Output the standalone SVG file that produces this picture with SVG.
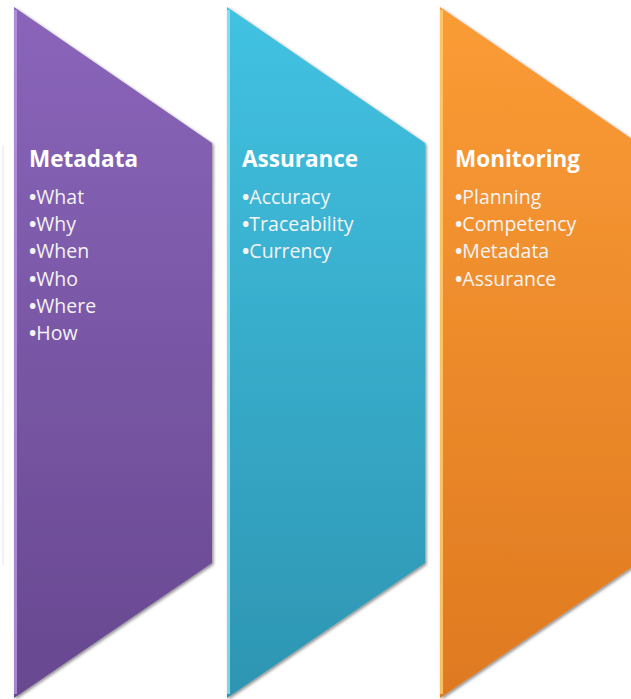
<svg xmlns="http://www.w3.org/2000/svg" width="631" height="699" viewBox="0 0 631 699">
  <defs>
    <linearGradient id="gPurple" x1="0" y1="0" x2="0" y2="1">
      <stop offset="0" stop-color="#8a65ba"/>
      <stop offset="1" stop-color="#684890"/>
    </linearGradient>
    <linearGradient id="gCyan" x1="0" y1="0" x2="0" y2="1">
      <stop offset="0" stop-color="#42c2e2"/>
      <stop offset="1" stop-color="#2d95b2"/>
    </linearGradient>
    <linearGradient id="gOrange" x1="0" y1="0" x2="0" y2="1">
      <stop offset="0" stop-color="#fa9c36"/>
      <stop offset="1" stop-color="#df7920"/>
    </linearGradient>
    <filter id="shadow" x="-10%" y="-10%" width="130%" height="130%">
      <feDropShadow dx="1.5" dy="1.5" stdDeviation="1.5" flood-color="#000" flood-opacity="0.45"/>
    </filter>
  </defs>
  <style>
    .shape { filter: url(#shadow); }
    .hl { stroke-width: 3; fill: none; opacity: 0.8; }
    .title { font-family: "Open Sans", "Liberation Sans", Arial, sans-serif; font-weight: bold; font-size: 22.5px; fill: #ffffff; }
    .item { font-family: "Open Sans", "Liberation Sans", Arial, sans-serif; font-size: 19.5px; fill: #f4f4f4; }
    .b { font-weight: bold; }
  </style>
  <rect width="631" height="699" fill="#ffffff"/>
  <line x1="3" y1="145" x2="3" y2="565" stroke="#e4e4e4" stroke-width="1"/>

  <g id="metadata">
    <polygon class="shape" points="14,7 212,143 212,563 14,698" fill="url(#gPurple)"/>
    <line class="hl" x1="15.5" y1="10" x2="15.5" y2="694" stroke="#b696e0"/>
    <text class="title" x="29" y="167">Metadata</text>
    <text class="item" x="29" y="204"><tspan class="b">•</tspan>What</text>
    <text class="item" x="29" y="231"><tspan class="b">•</tspan>Why</text>
    <text class="item" x="29" y="258"><tspan class="b">•</tspan>When</text>
    <text class="item" x="29" y="286"><tspan class="b">•</tspan>Who</text>
    <text class="item" x="29" y="313"><tspan class="b">•</tspan>Where</text>
    <text class="item" x="29" y="340"><tspan class="b">•</tspan>How</text>
  </g>

  <g id="assurance">
    <polygon class="shape" points="227,7 425,143 425,563 227,698" fill="url(#gCyan)"/>
    <line class="hl" x1="228.5" y1="10" x2="228.5" y2="694" stroke="#8ee6fa"/>
    <text class="title" x="242" y="167">Assurance</text>
    <text class="item" x="242" y="204"><tspan class="b">•</tspan>Accuracy</text>
    <text class="item" x="242" y="231"><tspan class="b">•</tspan>Traceability</text>
    <text class="item" x="242" y="258"><tspan class="b">•</tspan>Currency</text>
  </g>

  <g id="monitoring">
    <polygon class="shape" points="440,7 638,143 638,563 440,698" fill="url(#gOrange)"/>
    <line class="hl" x1="441.5" y1="10" x2="441.5" y2="694" stroke="#ffd070"/>
    <text class="title" x="455" y="167">Monitoring</text>
    <text class="item" x="455" y="204"><tspan class="b">•</tspan>Planning</text>
    <text class="item" x="455" y="231"><tspan class="b">•</tspan>Competency</text>
    <text class="item" x="455" y="258"><tspan class="b">•</tspan>Metadata</text>
    <text class="item" x="455" y="286"><tspan class="b">•</tspan>Assurance</text>
  </g>

  <g id="connectors"></g>
</svg>
